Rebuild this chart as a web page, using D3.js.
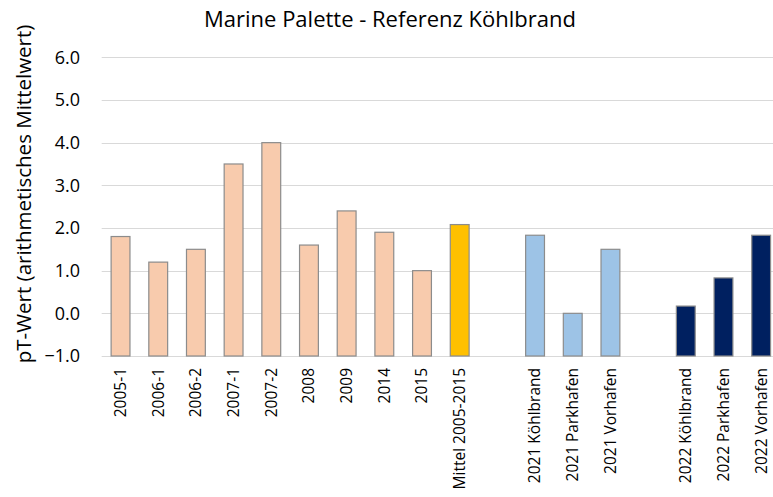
<!DOCTYPE html>
<html>
<head>
<meta charset="utf-8">
<script src="https://cdn.jsdelivr.net/npm/d3@7"></script>
<style>
  body { margin: 0; background: #fff; }
  text { font-family: "Open Sans", "Noto Sans", sans-serif; fill: #000; }
</style>
</head>
<body>
<div id="chart-area"></div>
<script>
// categories (gap1 / gap2 are the empty slots between groups)
var categories = ['2005-1', '2006-1', '2006-2', '2007-1', '2007-2', '2008', '2009', '2014', '2015',
  'Mittel 2005-2015', 'gap1', '2021 Köhlbrand', '2021 Parkhafen', '2021 Vorhafen',
  'gap2', '2022 Köhlbrand', '2022 Parkhafen', '2022 Vorhafen']

var values = [1.8, 1.2, 1.5, 3.5, 4.0, 1.6, 2.4, 1.9, 1.0,
  2.08, null, 1.83, 0.0, 1.5,
  null, 0.17, 0.83, 1.83]

// which colour group each bar belongs to
var groups = ['hist', 'hist', 'hist', 'hist', 'hist', 'hist', 'hist', 'hist', 'hist',
  'mean', null, 'y2021', 'y2021', 'y2021',
  null, 'y2022', 'y2022', 'y2022']

var yTicks = [-1, 0, 1, 2, 3, 4, 5, 6]

var colors = {hist: '#F8CBAD', mean: '#FFC000', y2021: '#9DC3E6', y2022: '#002060'}

var width = 773, height = 497
var margin = {left: 101.7, top: 57.3, bottom: 141}
var plotRight = 780

var svg = d3.select('#chart-area').append('svg')
  .attr('width', width)
  .attr('height', height)

var xScale = d3.scaleBand()
  .domain(categories)
  .range([margin.left, plotRight])
  .paddingInner(0.5)
  .paddingOuter(0.25)

var yScale = d3.scaleLinear()
  .domain([-1, 6])
  .range([height - margin.bottom, margin.top])

// gridlines
svg.append('g')
  .selectAll('line')
  .data(yTicks)
  .enter()
  .append('line')
  .attr('x1', margin.left)
  .attr('x2', plotRight)
  .attr('y1', d => Math.round(yScale(d)) + 0.5)
  .attr('y2', d => Math.round(yScale(d)) + 0.5)
  .attr('stroke', '#d9d9d9')
  .attr('stroke-width', 1)

// y tick labels
svg.append('g')
  .selectAll('text')
  .data(yTicks)
  .enter()
  .append('text')
  .attr('x', 80)
  .attr('y', d => yScale(d))
  .attr('dy', '0.35em')
  .attr('text-anchor', 'end')
  .attr('font-size', '18px')
  .text(d => d3.format('.1f')(d))

// bars
var barData = categories.map(function(c, i) {
  return {cat: c, value: values[i], group: groups[i]}
}).filter(d => d.value !== null)

svg.append('g')
  .selectAll('rect')
  .data(barData)
  .enter()
  .append('rect')
  .attr('x', d => xScale(d.cat))
  .attr('width', xScale.bandwidth())
  .attr('y', d => yScale(d.value))
  .attr('height', d => yScale(-1) - yScale(d.value))
  .attr('fill', d => colors[d.group])
  .attr('stroke', '#8c8c8c')
  .attr('stroke-width', 1.2)

// x labels, rotated
svg.append('g')
  .selectAll('text')
  .data(barData)
  .enter()
  .append('text')
  .attr('transform', d => 'translate(' + (xScale(d.cat) + xScale.bandwidth() / 2) + ',' + 368 + ') rotate(-90)')
  .attr('dy', '0.35em')
  .attr('text-anchor', 'end')
  .attr('font-size', '15.5px')
  .text(d => d.cat)

// title
svg.append('text')
  .attr('x', 390)
  .attr('y', 27)
  .attr('text-anchor', 'middle')
  .attr('font-size', '22px')
  .text('Marine Palette - Referenz Köhlbrand')

// y axis label
svg.append('text')
  .attr('transform', 'translate(31,' + 194 + ') rotate(-90)')
  .attr('text-anchor', 'middle')
  .attr('font-size', '20.5px')
  .text('pT-Wert (arithmetisches Mittelwert)')
</script>
</body>
</html>
